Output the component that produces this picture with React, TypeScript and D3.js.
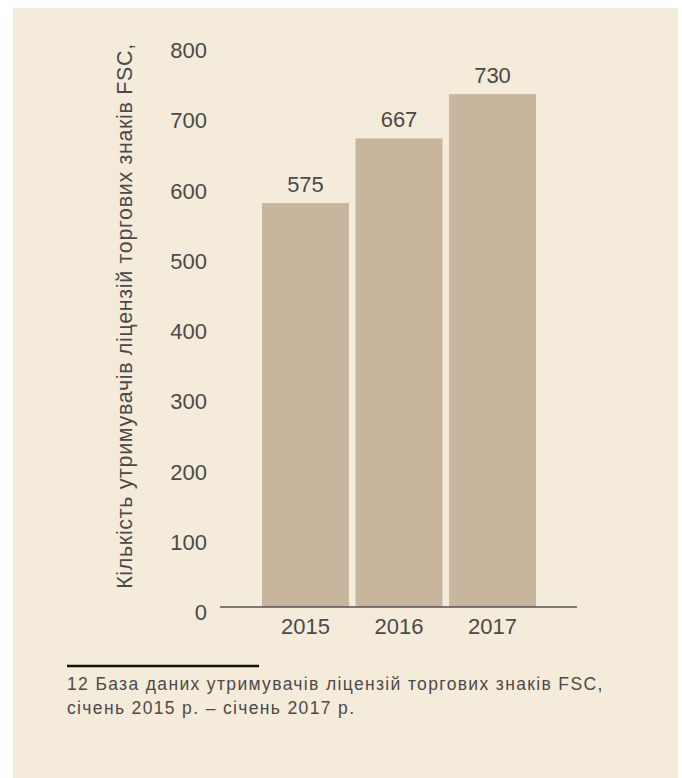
import React from 'react';
import * as d3 from 'd3';

const years = ['2015', '2016', '2017'];
const holders = [575, 667, 730];
const yTicks = [0, 100, 200, 300, 400, 500, 600, 700, 800];
const yTitle = 'Кількість утримувачів ліцензій торгових знаків FSC,';
const footnote = [
  '12 База даних утримувачів ліцензій торгових знаків FSC,',
  'січень 2015 р. – січень 2017 р.',
];

const font = '"Liberation Sans", Arial, sans-serif';
const ink = '#4a4a4a';

const App: React.FC = () => {
  const width = 682, height = 778;

  const y = d3.scaleLinear().domain([0, 800]).range([607, 45]);
  const x = d3.scaleBand<string>().domain(years).range([262, 536]).paddingInner(0.07).paddingOuter(0);

  return (
    <svg
      width={width}
      height={height}
      style={{ position: 'absolute', left: 0, top: 0 }}
      fontFamily={font}
    >
      <rect x={13} y={8} width={665} height={770} fill="#f5ebda" />

      {/* y axis title */}
      <text
        transform={`translate(132, 316) rotate(-90)`}
        textAnchor="middle"
        fontSize={21.5}
        letterSpacing={0.65}
        fill={ink}
      >
        {yTitle}
      </text>

      {/* tick labels */}
      {yTicks.map(t => (
        <text key={t} x={207} y={y(t) + 13} textAnchor="end" fontSize={22} fill={ink}>
          {t}
        </text>
      ))}

      {/* bars */}
      {years.map((yr, i) => (
        <g key={yr}>
          <rect
            x={x(yr)}
            y={y(holders[i])}
            width={x.bandwidth()}
            height={y(0) - y(holders[i])}
            fill="#c8b59d"
          />
          <text
            x={(x(yr) ?? 0) + x.bandwidth() / 2}
            y={y(holders[i]) - 11}
            textAnchor="middle"
            fontSize={22}
            fill={ink}
          >
            {holders[i]}
          </text>
          <text
            x={(x(yr) ?? 0) + x.bandwidth() / 2}
            y={634}
            textAnchor="middle"
            fontSize={22}
            fill={ink}
          >
            {yr}
          </text>
        </g>
      ))}

      {/* baseline */}
      <line x1={220} x2={577} y1={y(0)} y2={y(0)} stroke="#555" strokeWidth={1.5} />

      {/* footnote */}
      <line x1={67} x2={259} y1={666} y2={666} stroke="#111" strokeWidth={2.5} />
      {footnote.map((l, i) => (
        <text key={i} x={67} y={690 + i * 24} fontSize={17.5} letterSpacing={1.35} fill={ink}>
          {l}
        </text>
      ))}
    </svg>
  );
};

export default App;
